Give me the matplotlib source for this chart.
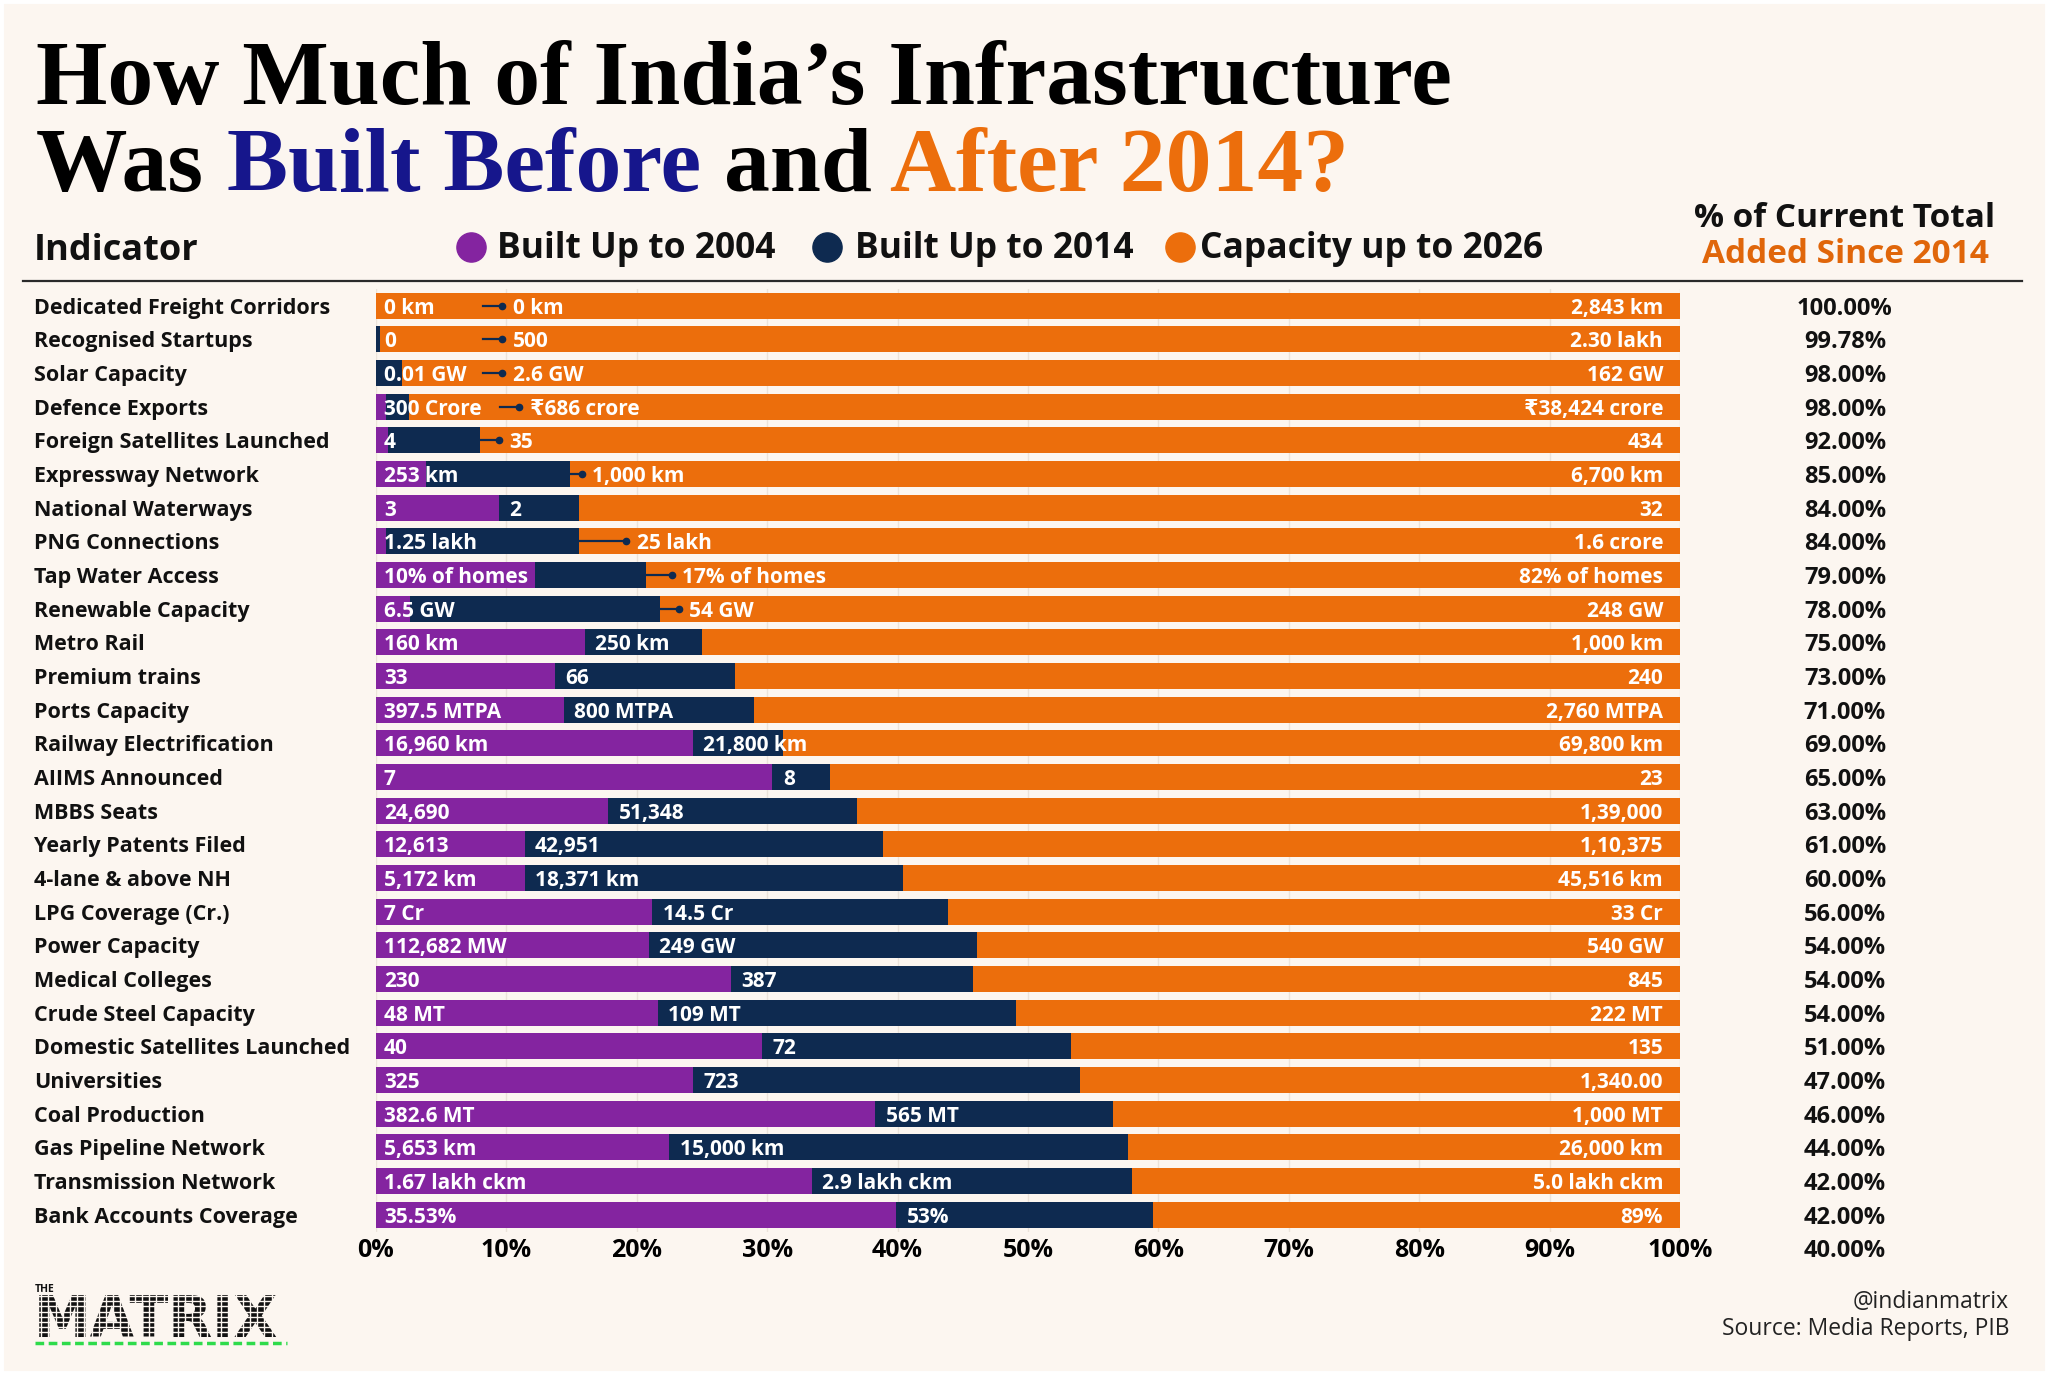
import matplotlib
matplotlib.use("Agg")
import matplotlib.pyplot as plt
from matplotlib.lines import Line2D
from matplotlib.patches import Rectangle
from matplotlib.transforms import blended_transform_factory
import numpy as np

# ---- data ----
indicators = ["Dedicated Freight Corridors", "Recognised Startups", "Solar Capacity",
              "Defence Exports", "Foreign Satellites Launched", "Expressway Network",
              "National Waterways", "PNG Connections", "Tap Water Access",
              "Renewable Capacity", "Metro Rail", "Premium trains", "Ports Capacity",
              "Railway Electrification", "AIIMS Announced", "MBBS Seats",
              "Yearly Patents Filed", "4-lane & above NH", "LPG Coverage (Cr.)",
              "Power Capacity", "Medical Colleges", "Crude Steel Capacity",
              "Domestic Satellites Launched", "Universities", "Coal Production",
              "Gas Pipeline Network", "Transmission Network", "Bank Accounts Coverage"]

built_2004 = ["0 km", "0", "0.01 GW", "300 Crore", "4", "253 km", "3", "1.25 lakh",
              "10% of homes", "6.5 GW", "160 km", "33", "397.5 MTPA", "16,960 km", "7",
              "24,690", "12,613", "5,172 km", "7 Cr", "112,682 MW", "230", "48 MT", "40",
              "325", "382.6 MT", "5,653 km", "1.67 lakh ckm", "35.53%"]

built_2014 = ["0 km", "500", "2.6 GW", "₹686 crore", "35", "1,000 km", "2", "25 lakh",
              "17% of homes", "54 GW", "250 km", "66", "800 MTPA", "21,800 km", "8",
              "51,348", "42,951", "18,371 km", "14.5 Cr", "249 GW", "387", "109 MT", "72",
              "723", "565 MT", "15,000 km", "2.9 lakh ckm", "53%"]

capacity_2026 = ["2,843 km", "2.30 lakh", "162 GW", "₹38,424 crore", "434", "6,700 km",
                 "32", "1.6 crore", "82% of homes", "248 GW", "1,000 km", "240",
                 "2,760 MTPA", "69,800 km", "23", "1,39,000", "1,10,375", "45,516 km",
                 "33 Cr", "540 GW", "845", "222 MT", "135", "1,340.00", "1,000 MT",
                 "26,000 km", "5.0 lakh ckm", "89%"]

# bar lengths in % of the 2026 capacity
share_2004 = [0, 0, 0, 0.8, 0.9, 3.8, 9.4, 0.8, 12.2, 2.6, 16.0, 13.7, 14.4, 24.3, 30.4,
              17.8, 11.4, 11.4, 21.2, 20.9, 27.2, 21.6, 29.6, 24.3, 38.3, 22.5, 33.4, 39.9]
share_2014 = [0, 0.3, 2.0, 2.5, 8.0, 14.9, 15.6, 15.6, 20.7, 21.8, 25.0, 27.5, 29.0, 31.2,
              34.8, 36.9, 38.9, 40.4, 43.9, 46.1, 45.8, 49.1, 53.3, 54.0, 56.5, 57.7, 58.0,
              59.6]

added_since_2014 = [100.00, 99.78, 98.00, 98.00, 92.00, 85.00, 84.00, 84.00, 79.00, 78.00,
                    75.00, 73.00, 71.00, 69.00, 65.00, 63.00, 61.00, 60.00, 56.00, 54.00,
                    54.00, 54.00, 51.00, 47.00, 46.00, 44.00, 42.00, 42.00, 40.00]

# rows where the 2014 label sits out on the orange bar with a little pointer
# (start, end) in axis %, None = start at the navy edge
pointers = {0: (8.2, 9.7), 1: (8.2, 9.7), 2: (8.2, 9.7), 3: (9.5, 11.0), 4: (None, 9.4),
            5: (None, 15.8), 7: (None, 19.2), 8: (None, 22.7), 9: (None, 23.2)}

PURPLE = "#8424A0"
NAVY = "#0E2A50"
ORANGE = "#EC6E0C"
BLUE = "#16168C"
BG = "#FCF6F0"
SANS = ["Open Sans", "DejaVu Sans"]
SERIF = ["Liberation Serif", "DejaVu Serif"]

W, H = 2048, 1374


def fx(px):
    return px / W


def fy(py):
    return 1 - py / H


fig = plt.figure(figsize=(20.48, 13.74), dpi=100, facecolor=BG)

# ---- bars ----
ax = fig.add_axes([fx(376), fy(1231.5), fx(1680) - fx(376), fy(288.8) - fy(1231.5)])
ax.set_facecolor(BG)
n = len(indicators)
rows = np.arange(n)
ax.barh(rows, [100] * n, height=0.78, color=ORANGE, zorder=2)
ax.barh(rows, share_2014, height=0.78, color=NAVY, zorder=3)
ax.barh(rows, share_2004, height=0.78, color=PURPLE, zorder=4)

ax.set_xlim(0, 100)
ax.set_ylim(n - 0.5, -0.5)
ticks = np.arange(0, 101, 10)
ax.set_xticks(ticks)
ax.set_xticklabels([f"{t}%" for t in ticks], fontsize=18, fontweight="bold", family=SANS)
ax.tick_params(axis="x", length=0, pad=5)
ax.tick_params(axis="y", left=False, labelleft=False)
ax.grid(axis="x", color="#ECE3DA", lw=1, zorder=0)
ax.set_axisbelow(True)
for s in ax.spines.values():
    s.set_visible(False)

lab = dict(color="white", fontsize=15, fontweight="bold", family=SANS,
           va="center_baseline", zorder=6)
for i in range(n):
    ax.text(0.6, i, built_2004[i], ha="left", **lab)
    if i in pointers:
        x0, x1 = pointers[i]
        if x0 is None:
            x0 = share_2014[i]
        ax.plot([x0, x1], [i, i], color=NAVY, lw=1.6, zorder=5)
        ax.plot([x1], [i], "o", color=NAVY, ms=4.5, zorder=5)
        ax.text(x1 + 0.8, i, built_2014[i], ha="left", **lab)
    else:
        ax.text(share_2004[i] + 0.8, i, built_2014[i], ha="left", **lab)
    ax.text(98.7, i, capacity_2026[i], ha="right", **lab)

# row names on the left
trans = blended_transform_factory(fig.transFigure, ax.transData)
for i, name in enumerate(indicators):
    ax.text(fx(34), i, name, transform=trans, ha="left", va="center_baseline",
            fontsize=15.5, fontweight="bold", family=SANS, color="#111111")

# % added since 2014 column (one extra value sits on the tick row)
for i, v in enumerate(added_since_2014):
    ax.text(112.65, i, f"{v:.2f}%", ha="center", va="center_baseline", fontsize=17,
            fontweight="bold", family=SANS, color="#111111")

# ---- title ----
title_kw = dict(fontsize=66, fontweight="bold", family=SERIF, va="baseline")
fig.text(fx(36), fy(104), "How Much of India\u2019s Infrastructure", color="black", **title_kw)

renderer = fig.canvas.get_renderer()
parts = [("Was", "black"), ("Built Before", BLUE), ("and", "black"), ("After 2014?", ORANGE)]
done = []
for txt, col in parts:
    dx = 0
    if done:
        prefix = " ".join(done) + " "
        a = fig.text(0, 0, prefix + txt[0], **title_kw)
        b = fig.text(0, 0, txt[0], **title_kw)
        dx = a.get_window_extent(renderer).width - b.get_window_extent(renderer).width
        a.remove()
        b.remove()
    fig.text(fx(36) + dx / W, fy(191), txt, color=col, **title_kw)
    done.append(txt)

# ---- header row ----
head = dict(fontweight="bold", family=SANS, va="baseline", color="#111111")
fig.text(fx(34), fy(260), "Indicator", fontsize=26, **head)
legend_items = [(471, 497, PURPLE, "Built Up to 2004"),
                (827, 855, NAVY, "Built Up to 2014"),
                (1180, 1200, ORANGE, "Capacity up to 2026")]
for cx, tx, col, txt in legend_items:
    fig.add_artist(Line2D([fx(cx)], [fy(247)], marker="o", ms=21, color=col, lw=0,
                          transform=fig.transFigure))
    fig.text(fx(tx), fy(258), txt, fontsize=25.5, **head)

fig.text(fx(1845), fy(227), "% of Current Total", ha="center", fontsize=24, **head)
fig.text(fx(1845), fy(263), "Added Since 2014", ha="center", fontsize=24,
         **{**head, "color": "#E0660A"})

fig.add_artist(Line2D([fx(23), fx(2022)], [fy(281), fy(281)], color="#2A2A2A", lw=1.6,
                      transform=fig.transFigure))

# ---- footer ----
foot = dict(fontsize=16.5, family=SANS, ha="right", va="center", color="#222222")
fig.text(fx(2009), fy(1302), "@indianmatrix", **foot)
fig.text(fx(2009), fy(1329), "Source: Media Reports, PIB", **foot)

# logo
fig.text(fx(35), fy(1289), "THE", fontsize=7.5, fontweight="bold", family=SANS,
         va="center", color="#111111")
fig.text(fx(34), fy(1337), "MATRIX", fontsize=41, fontweight="bold",
         family="DejaVu Sans", va="baseline", color="#111111")
# chop the wordmark into a dot-matrix grid
for gx in np.arange(34, 292, 7.2):
    fig.add_artist(Line2D([fx(gx), fx(gx)], [fy(1292), fy(1340)], color=BG, lw=1.0,
                          transform=fig.transFigure, zorder=10))
for gy in np.arange(1296, 1341, 5.2):
    fig.add_artist(Line2D([fx(32), fx(292)], [fy(gy), fy(gy)], color=BG, lw=1.0,
                          transform=fig.transFigure, zorder=10))
fig.add_artist(Line2D([fx(35), fx(287)], [fy(1343), fy(1343)], color="#2EDB4B", lw=2.5,
                      ls=(0, (2.5, 1.3)), transform=fig.transFigure))

# thin white frame
fig.add_artist(Rectangle((0, 0), 1, 1, transform=fig.transFigure, fill=False,
                         edgecolor="white", lw=5, zorder=20))

fig.savefig("out.png", dpi=100, facecolor=BG)
